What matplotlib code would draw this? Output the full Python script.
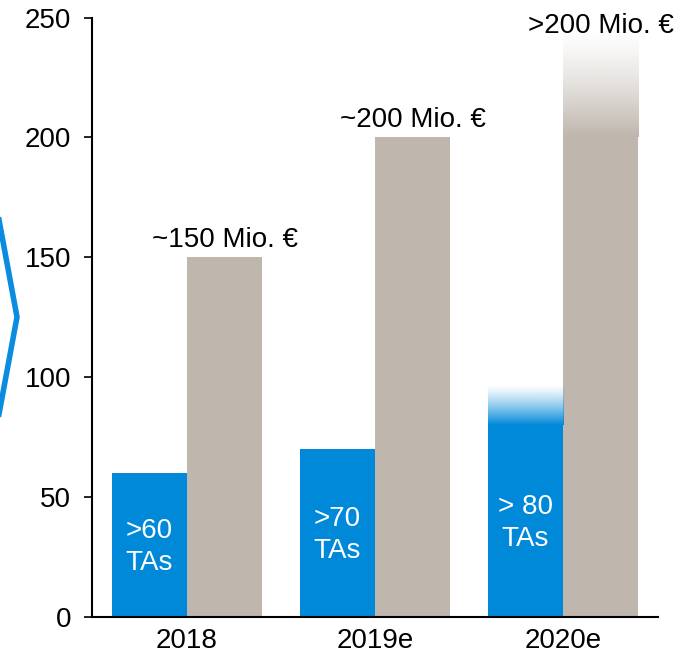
import numpy as np
import matplotlib
matplotlib.use("Agg")
import matplotlib.pyplot as plt
from matplotlib.lines import Line2D
from matplotlib.colors import to_rgb

plt.rcParams['font.family'] = ['Liberation Sans', 'DejaVu Sans']

years = ['2018', '2019e', '2020e']
tas = [60, 70, 80]
tas_labels = ['>60\nTAs', '>70\nTAs', '> 80\nTAs']
revenue = [150, 200, 200]
rev_labels = ['~150 Mio. €', '~200 Mio. €', '>200 Mio. €']
# faded "outlook" part above the last bars
tas_fade_top = 97
rev_fade_top = 245

blue = '#0088d9'
grey = '#bfb6ad'
w = 0.4
fs = 20

fig = plt.figure(figsize=(6.88, 6.56), dpi=100)
ax = fig.add_axes([0.1337, 0.0595, 0.8227, 0.9138])

x = np.arange(len(years))
ax.bar(x - w/2, tas, width=w, color=blue, zorder=2)
ax.bar(x + w/2, revenue, width=w, color=grey, zorder=2)

def fade(ax, xc, y0, y1, color, power=1.3):
    t = np.linspace(0, 1, 200)[:, None]
    img = np.zeros((200, 1, 4))
    img[..., :3] = to_rgb(color)
    img[..., 3] = (1 - t) ** power
    ax.imshow(img, extent=[xc - w/2, xc + w/2, y0, y1], origin='lower',
              aspect='auto', interpolation='bilinear', zorder=2)

fade(ax, x[-1] - w/2, tas[-1], tas_fade_top, blue)
fade(ax, x[-1] + w/2, revenue[-1], rev_fade_top, grey)

for i in range(len(years)):
    ax.text(x[i] - w/2, tas[i] / 2 - 1, tas_labels[i], ha='center', va='center',
            color='white', fontsize=fs, linespacing=1.3, zorder=3)
for i in range(len(years)):
    yl = revenue[i] + 4.5 if i < 2 else 243.5
    ax.text(x[i] + w/2, yl, rev_labels[i], ha='center', va='baseline',
            fontsize=fs, zorder=3, clip_on=False)

ax.set_xlim(-0.505, 2.505)
ax.set_ylim(0, 250)
ax.set_yticks(np.arange(0, 251, 50))
ax.set_xticks(x)
ax.set_xticklabels(years)
ax.tick_params(axis='y', length=6, width=1.2, pad=9, labelsize=fs, direction='out')
ax.tick_params(axis='x', length=0, pad=8, labelsize=fs)
for s in ['top', 'right']:
    ax.spines[s].set_visible(False)
for s in ['left', 'bottom']:
    ax.spines[s].set_linewidth(1.5)

# chevron at the left edge
W, H = 688, 656
px = [-6, 17, -6]
py = [193, 317, 441]
fig.add_artist(Line2D([p / W for p in px], [1 - p / H for p in py],
                      color='#0a8ce0', lw=4, transform=fig.transFigure,
                      solid_joinstyle='miter'))

fig.savefig('out.png', dpi=100)
